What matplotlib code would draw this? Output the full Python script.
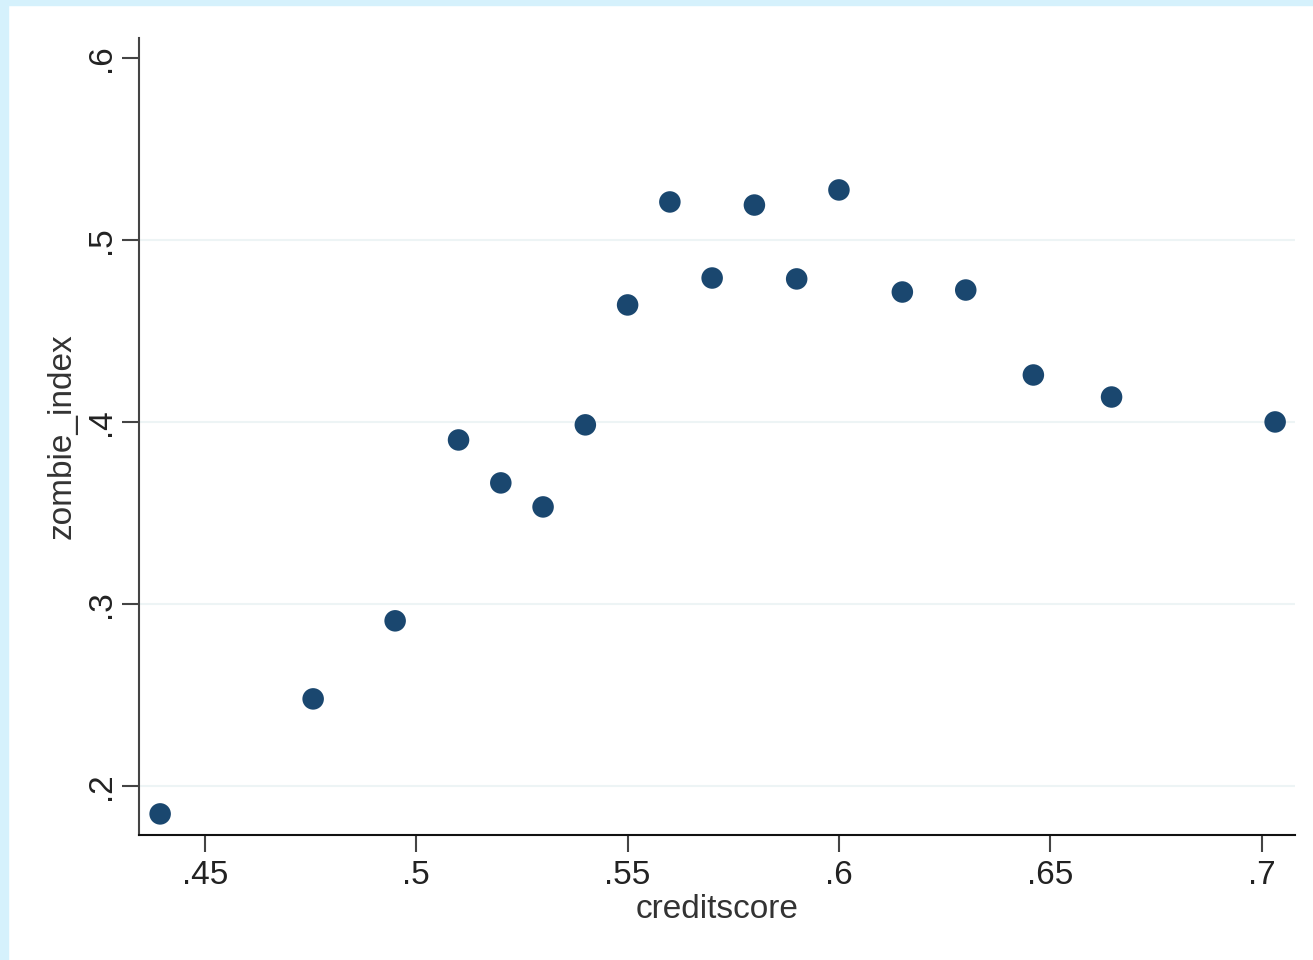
"""Stata-style scatter: zombie_index vs creditscore."""
import matplotlib
matplotlib.use("Agg")
import matplotlib.pyplot as plt
from matplotlib.patches import Rectangle

CREDITSCORE = [0.4394, 0.4756, 0.495, 0.51, 0.52, 0.53, 0.54, 0.55, 0.56,
               0.57, 0.58, 0.59, 0.60, 0.615, 0.63, 0.646, 0.6645, 0.7032]
ZOMBIE_INDEX = [0.1846, 0.2478, 0.2907, 0.3901, 0.3665, 0.3533, 0.3984,
                0.4643, 0.5209, 0.4791, 0.5192, 0.4786, 0.5275, 0.4714,
                0.4725, 0.4258, 0.4137, 0.4000]
XTICKS = [0.45, 0.5, 0.55, 0.6, 0.65, 0.7]
XTICK_LABELS = [".45", ".5", ".55", ".6", ".65", ".7"]
YTICKS = [0.2, 0.3, 0.4, 0.5, 0.6]
YTICK_LABELS = [".2", ".3", ".4", ".5", ".6"]
GRID_Y = [0.2, 0.3, 0.4, 0.5]

plt.rcParams["font.family"] = ["Liberation Sans", "DejaVu Sans"]

fig = plt.figure(figsize=(13.13, 9.6), dpi=100, facecolor="white")
# light blue frame on the top and left edges
fig.patches.append(Rectangle((0, 0), 8 / 1313, 1, transform=fig.transFigure,
                             color="#d5f1fc", zorder=0))
fig.patches.append(Rectangle((0, 1 - 5 / 960), 1, 5 / 960, transform=fig.transFigure,
                             color="#d5f1fc", zorder=0))

ax = fig.add_axes([139 / 1313, 1 - 835 / 960, (1295 - 139) / 1313, (835 - 38) / 960])
for gy in GRID_Y:
    ax.axhline(gy, color="#edf4f5", lw=1.5, zorder=1)
ax.scatter(CREDITSCORE, ZOMBIE_INDEX, s=240, color="#1a476f", edgecolors="none",
           zorder=3)

ax.set_xlim(0.4344, 0.7079)
ax.set_ylim(0.173, 0.611)
ax.set_xticks(XTICKS, XTICK_LABELS)
ax.set_yticks(YTICKS, YTICK_LABELS)
for lbl in ax.get_yticklabels():
    lbl.set_rotation(90)
    lbl.set_va("center")
ax.tick_params(axis="both", length=12, width=1.5, labelsize=24, color="#444444",
               labelcolor="#222222")
ax.tick_params(axis="x", pad=6)
ax.tick_params(axis="y", pad=4)

for side in ("top", "right"):
    ax.spines[side].set_visible(False)
ax.spines["left"].set_color("#444444")
ax.spines["left"].set_linewidth(1.5)
ax.spines["bottom"].set_color("#111111")
ax.spines["bottom"].set_linewidth(1.5)

ax.set_xlabel("creditscore", fontsize=24, labelpad=2, color="#333333")
ax.set_ylabel("zombie_index", fontsize=24, labelpad=6, color="#333333")

fig.savefig("out.png", dpi=100)
